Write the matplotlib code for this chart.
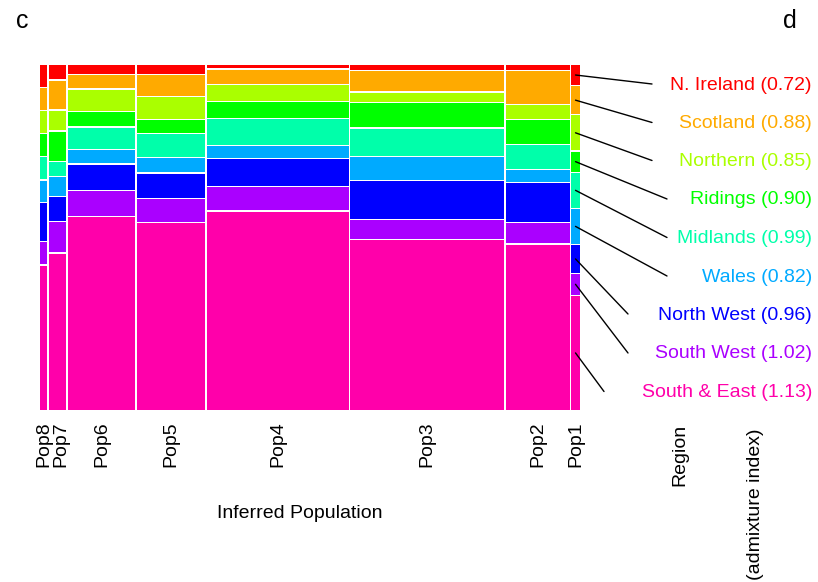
import matplotlib
matplotlib.use("Agg")
import matplotlib.pyplot as plt
import matplotlib.transforms as mtransforms
import numpy as np

plt.rcParams['font.family'] = ['Liberation Sans', 'DejaVu Sans']

# Inferred populations, left to right, and their relative sizes (column widths)
populations = ["Pop8", "Pop7", "Pop6", "Pop5", "Pop4", "Pop3", "Pop2", "Pop1"]
pop_sizes = [7.3, 17.7, 67.3, 69.0, 142.3, 154.0, 64.0, 9.0]

# Regions, top to bottom, with admixture index
regions = ["N. Ireland", "Scotland", "Northern", "Ridings", "Midlands",
           "Wales", "North West", "South West", "South & East"]
admixture_index = [0.72, 0.88, 0.85, 0.90, 0.99, 0.82, 0.96, 1.02, 1.13]
region_colors = ["#FF0000", "#FFAA00", "#AAFF00", "#00FF00", "#00FFAA",
                 "#00AAFF", "#0000FF", "#AA00FF", "#FF00AA"]

# Relative share of each region within each population (Pop8 .. Pop1)
n_ireland = [21.7, 14.3, 9.0, 8.7, 3.3, 4.7, 5.0, 20.0]
scotland = [22.3, 29.0, 13.0, 20.6, 14.3, 20.3, 32.7, 27.6]
northern = [21.7, 19.6, 21.0, 22.3, 15.7, 9.7, 13.4, 35.0]
ridings = [21.7, 29.0, 14.6, 12.7, 15.6, 24.0, 24.3, 20.0]
midlands = [22.0, 14.0, 21.3, 22.4, 26.0, 27.4, 23.7, 34.7]
wales = [21.7, 19.0, 13.0, 14.3, 12.0, 22.6, 11.7, 34.7]
north_west = [37.7, 23.7, 25.0, 24.3, 27.0, 37.6, 38.7, 27.7]
south_west = [22.0, 30.3, 24.8, 22.7, 23.0, 19.0, 20.0, 20.4]
south_east = [145.0, 156.7, 193.3, 187.0, 199.3, 170.3, 165.7, 114.0]

shares = [n_ireland, scotland, northern, ridings, midlands, wales,
          north_west, south_west, south_east]

W, H = 818, 582
fig = plt.figure(figsize=(W / 100, H / 100), dpi=100)


def fx(px):
    return px / W


def fy(py):
    return 1 - py / H


# mosaic area in pixel-like data units
area_w, area_h = 540.0, 345.0
ax = fig.add_axes([fx(40), fy(410), area_w / W, area_h / H])
ax.set_xlim(0, area_w)
ax.set_ylim(0, area_h)
ax.axis("off")

gap_x, gap_y = 1.5, 1.3
n_pop = len(populations)
n_reg = len(regions)
w_scale = (area_w - gap_x * (n_pop - 1)) / sum(pop_sizes)
widths = np.array(pop_sizes) * w_scale
lefts = np.concatenate([[0], np.cumsum(widths + gap_x)[:-1]])

# stack from bottom (South & East) to top (N. Ireland)
order = list(range(n_reg))[::-1]
mids = {}
for j in range(n_pop):
    col = np.array([shares[i][j] for i in order])
    h_scale = (area_h - gap_y * (n_reg - 1)) / col.sum()
    heights = col * h_scale
    bottom = 0.0
    for k, i in enumerate(order):
        ax.bar(lefts[j], heights[k], width=widths[j], bottom=bottom,
               align="edge", color=region_colors[i], linewidth=0)
        mids[(i, j)] = (lefts[j] + widths[j] / 2, bottom + heights[k] / 2)
        bottom += heights[k] + gap_y

# population labels under their columns, spread apart where columns are narrow
centres = list(lefts + widths / 2)
min_sep = 17.5
for j in range(1, n_pop):
    if centres[j] - centres[j - 1] < min_sep:
        centres[j] = centres[j - 1] + min_sep
blend = mtransforms.blended_transform_factory(ax.transData, fig.transFigure)
for name, cx in zip(populations, centres):
    ax.text(cx, fy(421), name, rotation=90, ha="center",
            va="top", fontsize=14, transform=blend)

fig.text(fx(300), fy(514), "Inferred Population", ha="center", va="center",
         fontsize=14)

# region legend with leader lines into the last column
label_y = [83, 121.5, 159.5, 198, 236.5, 275, 313, 352, 390.5]
line_end_x = [652, 652, 652, 667, 667, 667, 628, 628, 604]
for i in range(n_reg):
    fig.text(fx(812), fy(label_y[i] + 2),
             f"{regions[i]} ({admixture_index[i]:.2f})",
             color=region_colors[i], ha="right", va="center", fontsize=14)
    ax.annotate("", xy=(fx(line_end_x[i]), fy(label_y[i] + 1)),
                xycoords="figure fraction",
                xytext=mids[(i, n_pop - 1)], textcoords="data",
                arrowprops=dict(arrowstyle="-", color="black", lw=1.0,
                                shrinkA=0, shrinkB=0),
                annotation_clip=False)

fig.text(fx(680), fy(424), "Region", rotation=90, ha="center", va="top",
         fontsize=14)
fig.text(fx(755), fy(428), "(admixture index)", rotation=90, ha="center",
         va="top", fontsize=14)

fig.text(fx(22), fy(21), "c", ha="center", va="center", fontsize=18)
fig.text(fx(790), fy(21), "d", ha="center", va="center", fontsize=18)

fig.savefig("out.png", dpi=100)
